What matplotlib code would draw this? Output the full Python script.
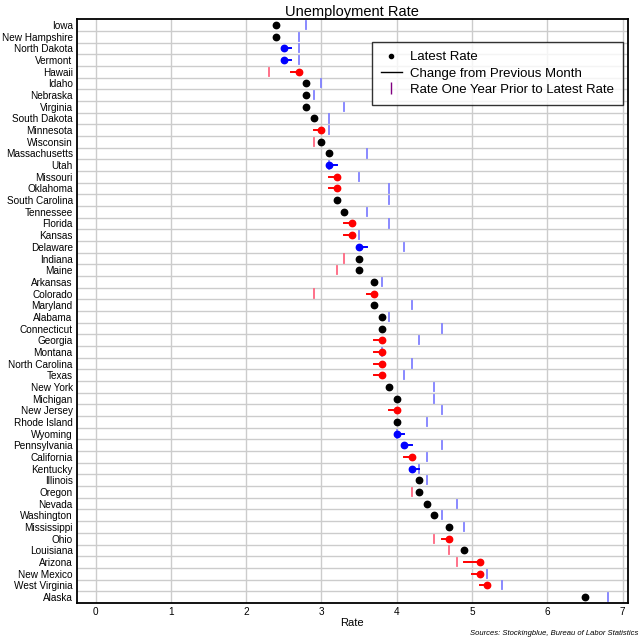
import matplotlib
matplotlib.use('Agg')
import matplotlib.pyplot as plt
from matplotlib.lines import Line2D
import numpy as np

plt.rcParams['font.family'] = ['Liberation Sans', 'DejaVu Sans']

states = ['Iowa', 'New Hampshire', 'North Dakota', 'Vermont', 'Hawaii', 'Idaho',
          'Nebraska', 'Virginia', 'South Dakota', 'Minnesota', 'Wisconsin',
          'Massachusetts', 'Utah', 'Missouri', 'Oklahoma', 'South Carolina',
          'Tennessee', 'Florida', 'Kansas', 'Delaware', 'Indiana', 'Maine',
          'Arkansas', 'Colorado', 'Maryland', 'Alabama', 'Connecticut', 'Georgia',
          'Montana', 'North Carolina', 'Texas', 'New York', 'Michigan',
          'New Jersey', 'Rhode Island', 'Wyoming', 'Pennsylvania', 'California',
          'Kentucky', 'Illinois', 'Oregon', 'Nevada', 'Washington', 'Mississippi',
          'Ohio', 'Louisiana', 'Arizona', 'New Mexico', 'West Virginia', 'Alaska']
latest = [2.4, 2.4, 2.5, 2.5, 2.7, 2.8, 2.8, 2.8, 2.9, 3.0, 3.0,
          3.1, 3.1, 3.2, 3.2, 3.2, 3.3, 3.4, 3.4, 3.5, 3.5, 3.5,
          3.7, 3.7, 3.7, 3.8, 3.8, 3.8, 3.8, 3.8, 3.8, 3.9, 4.0,
          4.0, 4.0, 4.0, 4.1, 4.2, 4.2, 4.3, 4.3, 4.4, 4.5, 4.7,
          4.7, 4.9, 5.1, 5.1, 5.2, 6.5]
prev_month = [2.4, 2.4, 2.6, 2.6, 2.6, 2.8, 2.8, 2.8, 2.9, 2.9, 3.0,
              3.1, 3.2, 3.1, 3.1, 3.2, 3.3, 3.3, 3.3, 3.6, 3.5, 3.5,
              3.7, 3.6, 3.7, 3.8, 3.8, 3.7, 3.7, 3.7, 3.7, 3.9, 4.0,
              3.9, 4.0, 4.1, 4.2, 4.1, 4.3, 4.3, 4.3, 4.4, 4.5, 4.7,
              4.6, 4.9, 4.9, 5.0, 5.1, 6.5]
year_prior = [2.8, 2.7, 2.7, 2.7, 2.3, 3.0, 2.9, 3.3, 3.1, 3.1, 2.9,
              3.6, 3.1, 3.5, 3.9, 3.9, 3.6, 3.9, 3.5, 4.1, 3.3, 3.2,
              3.8, 2.9, 4.2, 3.9, 4.6, 4.3, 3.8, 4.2, 4.1, 4.5, 4.5,
              4.6, 4.4, 4.0, 4.6, 4.4, 4.3, 4.4, 4.2, 4.8, 4.6, 4.9,
              4.5, 4.7, 4.8, 5.2, 5.4, 6.8]

fig = plt.figure(figsize=(6.4, 6.4), dpi=100)
ax = fig.add_axes([0.120, 0.058, 0.861, 0.912])

y = np.arange(len(states))
for i in range(len(states)):
    if latest[i] > prev_month[i]:
        c = 'red'
    elif latest[i] < prev_month[i]:
        c = 'blue'
    else:
        c = 'black'
    tc = '#ff6680' if year_prior[i] < latest[i] else '#8080ff'
    ax.plot([year_prior[i], year_prior[i]], [y[i] - 0.35, y[i] + 0.35],
            color=tc, lw=1.3, zorder=3)
    ax.plot([prev_month[i], latest[i]], [y[i], y[i]], color=c, lw=1.4, zorder=4)
    ax.plot(latest[i], y[i], 'o', color=c, ms=4.6, zorder=5)

ax.set_xlim(-0.25, 7.07)
ax.set_ylim(len(states) - 0.5, -0.5)
ax.set_xticks(range(8))
ax.set_yticks(y)
ax.set_yticklabels(states)
ax.set_yticks(np.arange(0.5, len(states) - 1, 1), minor=True)
ax.tick_params(axis='both', which='both', length=0, labelsize=7.2, pad=3)
ax.grid(True, axis='x', which='major', color='#cccccc', lw=1)
ax.grid(True, axis='y', which='minor', color='#cccccc', lw=1)
ax.set_axisbelow(True)
for s in ax.spines.values():
    s.set_linewidth(1.3)

ax.set_xlabel('Rate', fontsize=8, labelpad=1)
ax.set_title('Unemployment Rate', fontsize=10.5, pad=2)

handles = [
    Line2D([], [], marker='o', color='black', ls='none', ms=3),
    Line2D([], [], color='black', lw=1),
    Line2D([], [], marker='|', color='#800080', ls='none', ms=8),
]
leg = ax.legend(handles, ['Latest Rate', 'Change from Previous Month',
                          'Rate One Year Prior to Latest Rate'],
                loc='upper left', bbox_to_anchor=(0.535, 0.961), fontsize=9.5,
                frameon=True, fancybox=False, edgecolor='black',
                handlelength=1.6, handletextpad=0.6, labelspacing=0.3,
                borderpad=0.7, borderaxespad=0)
leg.get_frame().set_linewidth(1)

fig.text(0.997, 0.005, 'Sources: Stockingblue, Bureau of Labor Statistics',
         ha='right', va='bottom', fontsize=5.5, style='italic')

fig.savefig('out.png', dpi=100)
